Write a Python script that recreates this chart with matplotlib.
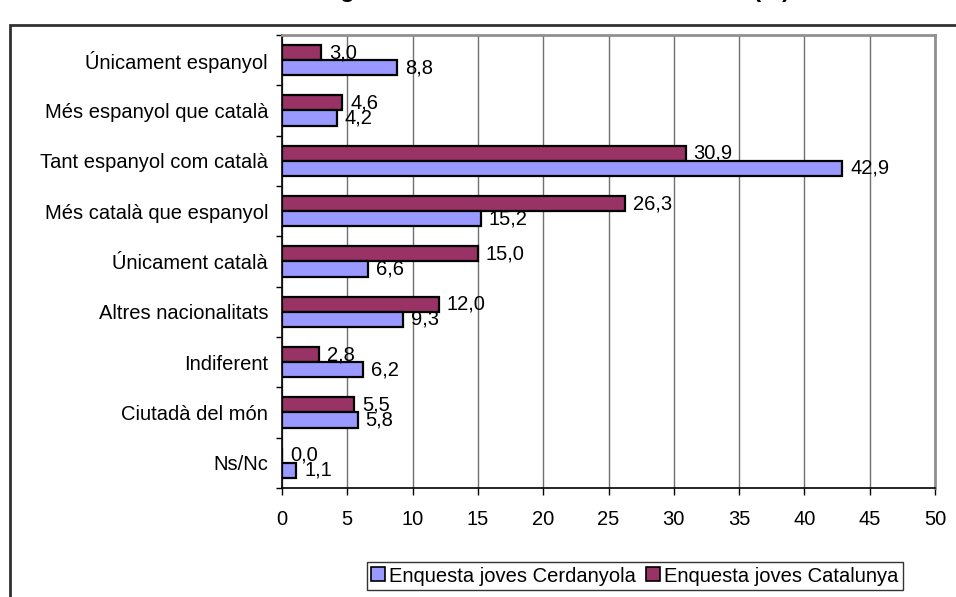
import numpy as np
import matplotlib
matplotlib.use("Agg")
from matplotlib import pyplot as plt
from matplotlib.lines import Line2D
from matplotlib.patches import Rectangle

plt.rcParams['font.family'] = ['Liberation Sans', 'DejaVu Sans']

# data
categories = ["Únicament espanyol", "Més espanyol que català", "Tant espanyol com català",
              "Més català que espanyol", "Únicament català", "Altres nacionalitats",
              "Indiferent", "Ciutadà del món", "Ns/Nc"]
cerdanyola = [8.8, 4.2, 42.9, 15.2, 6.6, 9.3, 6.2, 5.8, 1.1]
catalunya = [3.0, 4.6, 30.9, 26.3, 15.0, 12.0, 2.8, 5.5, 0.0]
series_names = ["Enquesta joves Cerdanyola", "Enquesta joves Catalunya"]
x_ticks = list(range(0, 51, 5))

col_cer = "#9999FF"
col_cat = "#993366"
fs = 14.5

fig = plt.figure(figsize=(9.56, 5.97), dpi=100)
W, H = 956, 597
ax = fig.add_axes([282 / W, 1 - 488 / H, (935 - 282) / W, (488 - 35) / H])

y = np.arange(len(categories))
h = 0.30
b_cat = ax.barh(y - h / 2, catalunya, height=h, color=col_cat, edgecolor="black", linewidth=1.6, zorder=3)
b_cer = ax.barh(y + h / 2, cerdanyola, height=h, color=col_cer, edgecolor="black", linewidth=1.6, zorder=3)

for bars, vals in ((b_cat, catalunya), (b_cer, cerdanyola)):
    for rect, v in zip(bars, vals):
        ax.annotate(("%.1f" % v).replace(".", ","),
                    (rect.get_width(), rect.get_y() + rect.get_height() / 2),
                    xytext=(8, 0), textcoords="offset pixels",
                    ha="left", va="center", fontsize=fs, zorder=4)

ax.set_xlim(0, 50)
ax.set_ylim(len(categories) - 0.5, -0.5)
ax.set_xticks(x_ticks)
ax.set_xticklabels([str(t) for t in x_ticks], fontsize=fs)
ax.set_yticks(y)
ax.set_yticklabels(categories, fontsize=fs)
ax.set_yticks(np.arange(-0.5, len(categories), 1), minor=True)
ax.tick_params(axis="y", which="major", length=0, pad=10)
ax.tick_params(axis="y", which="minor", length=4, width=1, color="black")
ax.tick_params(axis="x", which="major", length=5, width=1, color="black", pad=11)

ax.grid(axis="x", color="#707070", linewidth=1, zorder=0)
ax.spines["left"].set_color("black")
ax.spines["bottom"].set_color("black")
ax.spines["left"].set_linewidth(1.2)
ax.spines["bottom"].set_linewidth(1.2)
ax.spines["top"].set_color("#909090")
ax.spines["right"].set_color("#909090")
ax.spines["top"].set_linewidth(2)
ax.spines["right"].set_linewidth(2)

# outer chart frame
fig.patches.append(Rectangle((10 / W, -0.1), 1.2, 1 - 25 / H + 0.1, transform=fig.transFigure,
                             fill=False, edgecolor="#303030", linewidth=2))

# title, mostly cut off by the top edge
fig.text(790 / W, 1 + 2.5 / H, "Identificació nacional segons l'àmbit territorial de residència (%)",
         ha="right", va="baseline", fontsize=17, fontweight="bold")

handles = [Line2D([], [], linestyle="none", marker="s", markersize=10,
                  markerfacecolor=c, markeredgecolor="black", markeredgewidth=1.2)
           for c in (col_cer, col_cat)]
leg = fig.legend(handles, series_names, loc="center", bbox_to_anchor=(635 / W, 1 - 576 / H),
                 ncol=2, fontsize=fs, frameon=True, fancybox=False, handlelength=0.7,
                 handletextpad=0.2, columnspacing=0.5, borderpad=0.2, borderaxespad=0)
leg.get_frame().set_edgecolor("black")
leg.get_frame().set_linewidth(1)

fig.savefig("out.png", dpi=100)
